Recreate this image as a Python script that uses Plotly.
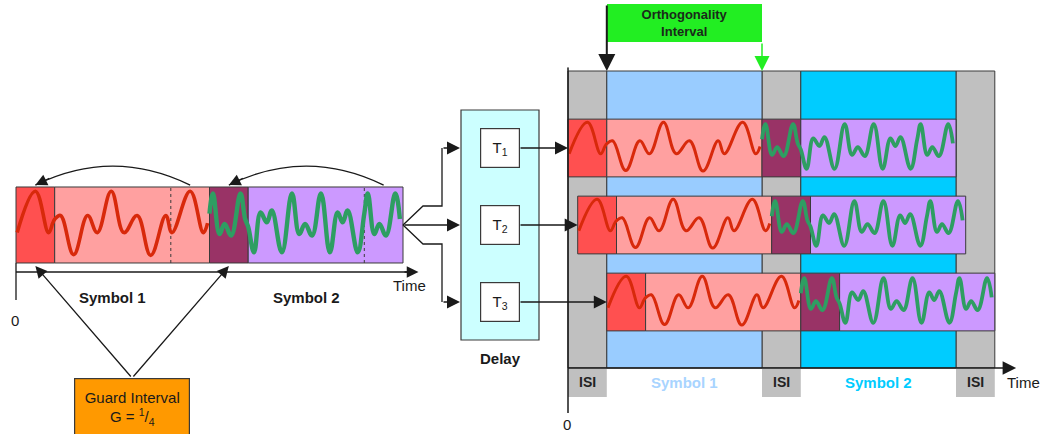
import plotly.graph_objects as go

# ---------------- data (time in units of T_u/4) ----------------
GUARD_LEN = 1.0            # guard interval, G = 1/4 of the useful part
USEFUL_LEN = 4.0           # useful symbol part
SYMBOL_NAMES = ["Symbol 1", "Symbol 2"]
PATH_NAMES = ["T<sub>1</sub>", "T<sub>2</sub>", "T<sub>3</sub>"]
PATH_DELAYS = [0.0, 0.25, 1.0]
ISI_NAME = "ISI"
# waveform extrema: time inside the useful part, amplitude
RED_T = [0.0, 0.15, 0.49, 0.85, 1.10, 1.46, 1.79, 2.13, 2.48, 2.87, 3.03, 3.50, 3.84, 3.95]
RED_V = [0.15, 0.25, -0.78, 0.25, -0.2, 0.89, -0.2, 0.25, -0.8, 0.25, -0.2, 0.89, -0.2, 0.05]
GREEN_T = [0.0, 0.15, 0.32, 0.48, 0.61, 0.87, 1.13, 1.32, 1.47, 1.65, 1.88, 2.11, 2.31,
           2.44, 2.57, 2.83, 3.0, 3.09, 3.26, 3.39, 3.56, 3.80, 3.92]
GREEN_V = [-0.05, -0.72, 0.33, 0.07, 0.38, -0.72, 0.83, -0.24, 0.03, -0.28, 0.83, -0.72, 0.33,
           0.07, 0.38, -0.72, 0.3, 0.83, -0.24, 0.03, -0.28, 0.83, 0.16]

# ---------------- styles / layout ----------------
W, H = 1042, 434
FONT = "Liberation Sans, Arial, sans-serif"
INK = "#1a1a1a"
EDGE = "#3a3a3a"
GUARD_COLORS = ["#ff5050", "#993366"]
USEFUL_COLORS = ["#ffa0a0", "#cc99ff"]
WAVE_COLORS = ["#d8290b", "#2e9e62"]
GREY, BLUE, CYAN = "#c0c0c0", "#99ccff", "#00ccff"
SYM_LABEL_COLORS = ["#a8d4ff", "#00ccff"]

L_X0, L_SX, L_XR = 16.0, 38.7, [-0.1, 10.5]
L_YC, L_SY, L_YR = 225.0, 38.0, [-1.974, 1.974]
R_X0, R_SX, R_XR = 568.0, 38.8, [-0.1, 11.6]
R_Y0, R_SY, R_YR = 71.0, 77.0, [4.4416, -0.05]
ROW_HALF = 0.375
R_AXIS_Y = 3.857
L_AXIS_Y = -1.237

def xdom(x0, s, r):
    return [(x0 + r[0] * s) / W, (x0 + r[1] * s) / W]

SYM_PERIOD = GUARD_LEN + USEFUL_LEN


def symbol_wave(ts, vs, start):
    tail = USEFUL_LEN - GUARD_LEN
    gx = [start + t - tail for t in ts if t >= tail]
    gy = [v for t, v in zip(ts, vs) if t >= tail]
    ux = [start + GUARD_LEN + t for t in ts]
    return gx + ux, gy + list(vs)


WAVES = [(RED_T, RED_V), (GREEN_T, GREEN_V)]

fig = go.Figure()
fig.add_trace(go.Scatter(x=[], y=[], xaxis="x", yaxis="y", showlegend=False))

shapes = []
ann = []

def rect(xref, yref, x0, x1, y0, y1, fill, line=EDGE, lw=1, layer="below"):
    shapes.append(dict(type="rect", xref=xref, yref=yref, x0=x0, x1=x1, y0=y0, y1=y1,
                       fillcolor=fill, line=dict(color=line, width=lw), layer=layer))

def seg(xref, yref, x0, y0, x1, y1, color=INK, lw=1.3, dash="solid", layer="above"):
    shapes.append(dict(type="line", xref=xref, yref=yref, x0=x0, y0=y0, x1=x1, y1=y1,
                       line=dict(color=color, width=lw, dash=dash), layer=layer))

def arrow(xref, yref, x, y, ax, ay, axref=None, ayref=None, color=INK, lw=1.3, size=2.0):
    ann.append(dict(xref=xref, yref=yref, x=x, y=y, ax=ax, ay=ay,
                    axref=axref or xref, ayref=ayref or yref, text="", showarrow=True,
                    arrowhead=2, arrowsize=size, arrowwidth=lw, arrowcolor=color, standoff=0))

def text(xref, yref, x, y, s, size=15, bold=False, color=INK, **kw):
    ann.append(dict(xref=xref, yref=yref, x=x, y=y, text=f"<b>{s}</b>" if bold else s,
                    showarrow=False, font=dict(family=FONT, size=size, color=color), **kw))

# ---------- left: transmitted symbols ----------
for k in range(2):
    s0 = k * SYM_PERIOD
    rect("x2", "y2", s0, s0 + GUARD_LEN, -1, 1, GUARD_COLORS[k])
    rect("x2", "y2", s0 + GUARD_LEN, s0 + SYM_PERIOD, -1, 1, USEFUL_COLORS[k])
    seg("x2", "y2", s0 + USEFUL_LEN, -1, s0 + USEFUL_LEN, 1, color=EDGE, lw=1, dash="dot", layer="below")
    wx, wy = symbol_wave(WAVES[k][0], WAVES[k][1], s0)
    fig.add_trace(go.Scatter(x=wx, y=wy, xaxis="x2", yaxis="y2", mode="lines",
                             line=dict(color=WAVE_COLORS[k], width=3.6 if k == 0 else 4.4,
                                       shape="spline", smoothing=1.15), showlegend=False,
                             hoverinfo="skip"))
    text("x2", "y2", s0 + SYM_PERIOD / 2, -1.895, SYMBOL_NAMES[k], bold=True)
    # cyclic-prefix copy arc
    a0 = s0 + USEFUL_LEN + GUARD_LEN / 2
    a1 = s0 + GUARD_LEN / 2
    cx = (a0 + a1) / 2
    shapes.append(dict(type="path", xref="x2", yref="y2",
                       path=f"M {a0},1.05 Q {cx},2.05 {a1},1.05",
                       line=dict(color=INK, width=1.3), layer="above"))
    arrow("x2", "y2", a1, 1.05, a1 + 0.4, 1.25, size=1.8)

seg("x2", "y2", 0, L_AXIS_Y, 10.2, L_AXIS_Y)
arrow("x2", "y2", 10.4, L_AXIS_Y, 10.0, L_AXIS_Y, size=1.8)
seg("x2", "y2", 0, -1, 0, L_YR[0])
text("x2", "y2", 10.18, -1.605, "Time")
text("x", "y", 15, 320, "0")

# guard interval callout
GI_X = (GUARD_LEN / 2 + SYM_PERIOD + GUARD_LEN / 2) / 2
ann.append(dict(xref="x2", yref="y", x=GI_X, y=378, yanchor="top", showarrow=False,
                text="Guard Interval<br>G = <sup>1</sup>/<sub>4</sub>", width=114, height=58,
                bgcolor="#ff9900", bordercolor=EDGE, borderwidth=1.2, borderpad=0,
                font=dict(family=FONT, size=15, color=INK), valign="middle"))
for k in range(2):
    arrow("x2", "y2", k * SYM_PERIOD + GUARD_LEN / 2, -1.08, GI_X, 112, ayref="pixel", size=1.8)

# ---------- delay block ----------
rect("x", "y", 461, 539, 110, 340, "#ccffff", lw=1.2)
text("x", "y", 500, 358, "Delay", bold=True)
shapes.append(dict(type="path", xref="x", yref="y",
                   path="M 403,225 L 423,206 L 442,206 L 442,148 M 403,225 L 423,244 L 442,244 L 442,302",
                   line=dict(color=INK, width=1.3), layer="above"))
for r, py in enumerate([148, 225, 302]):
    arrow("x", "y", 460, py, 403 if r == 1 else 442, py, size=2.0)

# ---------- right: received paths ----------
for k in range(3):
    rect("x3", "y3", k * SYM_PERIOD, k * SYM_PERIOD + GUARD_LEN, 0, R_AXIS_Y, GREY, lw=1)
    rect("x3", "y3", k * SYM_PERIOD, k * SYM_PERIOD + GUARD_LEN, R_AXIS_Y, 4.234, GREY, line=GREY, lw=0)
    text("x3", "y3", k * SYM_PERIOD + GUARD_LEN / 2, 4.04, ISI_NAME, bold=True, size=14, color="#222")
for k in range(2):
    rect("x3", "y3", k * SYM_PERIOD + GUARD_LEN, (k + 1) * SYM_PERIOD, 0, R_AXIS_Y, [BLUE, CYAN][k], lw=1)
    text("x3", "y3", k * SYM_PERIOD + GUARD_LEN + USEFUL_LEN / 2, 4.04, SYMBOL_NAMES[k],
         bold=True, color=SYM_LABEL_COLORS[k])

for r, d in enumerate(PATH_DELAYS, start=1):
    for k in range(2):
        s0 = d + k * SYM_PERIOD
        rect("x3", "y3", s0, s0 + GUARD_LEN, r - ROW_HALF, r + ROW_HALF, GUARD_COLORS[k])
        rect("x3", "y3", s0 + GUARD_LEN, s0 + SYM_PERIOD, r - ROW_HALF, r + ROW_HALF, USEFUL_COLORS[k])
        wx, wy = symbol_wave(WAVES[k][0], WAVES[k][1], s0)
        fig.add_trace(go.Scatter(x=wx, y=[r - v * ROW_HALF for v in wy], xaxis="x3", yaxis="y3",
                                 mode="lines", line=dict(color=WAVE_COLORS[k], width=3.0 if k == 0 else 3.8,
                                                         shape="spline", smoothing=1.15),
                                 showlegend=False, hoverinfo="skip"))
    # T box and arrow into the row
    ann.append(dict(xref="x", yref="y3", x=499.5, y=r, text=PATH_NAMES[r - 1], showarrow=False,
                    width=38, height=38, bgcolor="white", bordercolor=EDGE, borderwidth=1.2,
                    borderpad=0, font=dict(family=FONT, size=15, color=INK)))
    arrow("x3", "y3", d, r, (519 - R_X0) / R_SX, r, size=2.0)

seg("x3", "y3", 0, R_AXIS_Y, 11.4, R_AXIS_Y, lw=1.5)
arrow("x3", "y3", 11.55, R_AXIS_Y, 11.2, R_AXIS_Y, size=1.8, lw=1.5)
seg("x3", "y3", 0, R_YR[1], 0, R_YR[0], lw=1.5)
text("x", "y", 1023, 382, "Time")
text("x", "y", 567, 424, "0")

# orthogonality interval
ann.append(dict(xref="x3", yref="y", x=GUARD_LEN + USEFUL_LEN / 2, y=23, showarrow=False,
                text="<b>Orthogonality<br>Interval</b>", width=USEFUL_LEN * R_SX, height=38,
                bgcolor="#22ee22", borderpad=0, borderwidth=0,
                font=dict(family=FONT, size=13, color="#1a2a1a")))
arrow("x3", "y3", GUARD_LEN, 0, GUARD_LEN, -67, ayref="pixel", lw=2, size=1.7)
arrow("x3", "y3", SYM_PERIOD, 0, SYM_PERIOD, -29, ayref="pixel", lw=1.5, color="#22ee22", size=2.0)

ax_common = dict(visible=False, showgrid=False, zeroline=False, fixedrange=True)
fig.update_layout(
    width=W, height=H, autosize=False, margin=dict(l=0, r=0, t=0, b=0),
    paper_bgcolor="white", plot_bgcolor="rgba(0,0,0,0)", showlegend=False,
    xaxis=dict(domain=[0, 1], range=[0, W], anchor="y", **ax_common),
    yaxis=dict(domain=[0, 1], range=[H, 0], anchor="x", **ax_common),
    xaxis2=dict(domain=xdom(L_X0, L_SX, L_XR), range=L_XR, anchor="y2", **ax_common),
    yaxis2=dict(domain=[1 - (L_YC - L_YR[0] * L_SY) / H, 1 - (L_YC - L_YR[1] * L_SY) / H],
                range=L_YR, anchor="x2", **ax_common),
    xaxis3=dict(domain=xdom(R_X0, R_SX, R_XR), range=R_XR, anchor="y3", **ax_common),
    yaxis3=dict(domain=[1 - (R_Y0 + R_YR[0] * R_SY) / H, 1 - (R_Y0 + R_YR[1] * R_SY) / H],
                range=R_YR, anchor="x3", **ax_common),
    shapes=shapes, annotations=ann,
)
fig.write_html("out.html", config={"displayModeBar": False},
               post_script="document.body.style.margin='0';document.body.style.overflow='hidden';")
